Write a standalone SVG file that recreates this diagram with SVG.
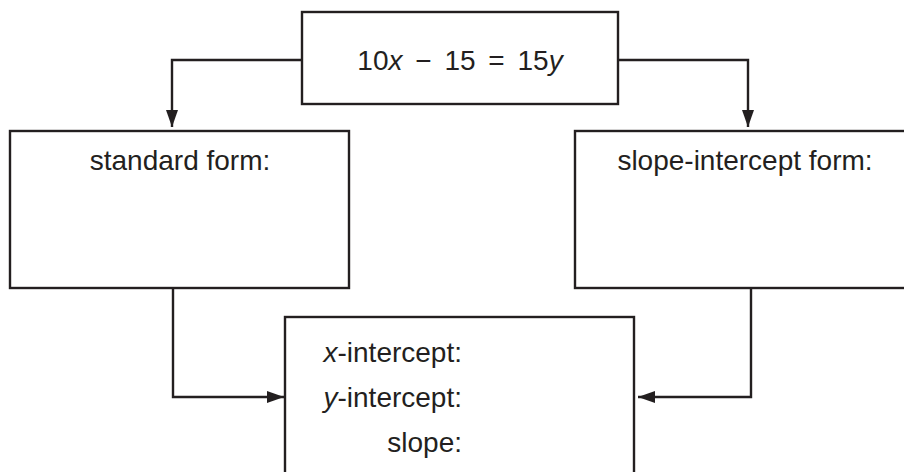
<svg xmlns="http://www.w3.org/2000/svg" width="904" height="472" viewBox="0 0 904 472">
<defs>
<marker id="ah" markerUnits="userSpaceOnUse" markerWidth="17" markerHeight="12" viewBox="0 0 17 12" refX="17" refY="6" orient="auto">
<path d="M0,0 L17,6 L0,12 Z" fill="#231f20"/>
</marker>
<style>
.box{fill:#fff;stroke:#231f20;stroke-width:2.4}
.ln{fill:none;stroke:#231f20;stroke-width:2.4;marker-end:url(#ah)}
text{font-family:"Liberation Sans",Arial,sans-serif;font-size:28px;fill:#231f20}
.it{font-style:italic}
</style>
</defs>
<rect width="904" height="472" fill="#fff"/>
<g id="connectors">
<path class="ln" d="M302,60 H172 V127"/>
<path class="ln" d="M618,60 H748 V127"/>
<path class="ln" d="M173,288 V397 H284"/>
<path class="ln" d="M751,288 V397 H638"/>
</g>
<g id="equation">
<rect class="box" x="302" y="12" width="316" height="92"/>
<text x="460" y="70" text-anchor="middle" word-spacing="5" xml:space="preserve">10<tspan class="it">x</tspan> − 15 = 15<tspan class="it">y</tspan></text>
</g>
<g id="standard">
<rect class="box" x="10" y="131" width="339" height="157"/>
<text x="180" y="170" text-anchor="middle">standard form:</text>
</g>
<g id="slopeintercept">
<rect class="box" x="575" y="131" width="340" height="157"/>
<text x="745" y="170" text-anchor="middle">slope-intercept form:</text>
</g>
<g id="results">
<rect class="box" x="285" y="317" width="349" height="170"/>
<text x="462" y="362" text-anchor="end"><tspan class="it">x</tspan>-intercept:</text>
<text x="462" y="407" text-anchor="end"><tspan class="it">y</tspan>-intercept:</text>
<text x="462" y="452" text-anchor="end">slope:</text>
</g>
</svg>
